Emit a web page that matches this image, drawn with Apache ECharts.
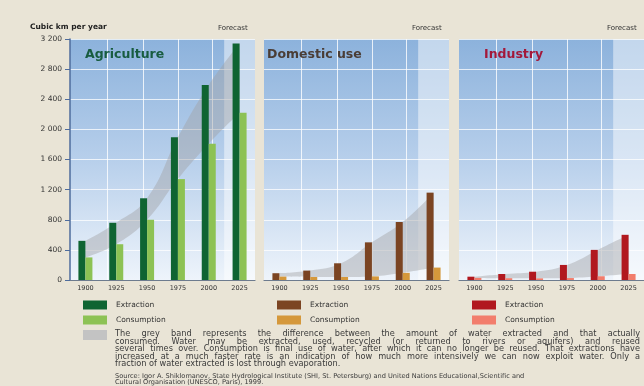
<!DOCTYPE html>
<html>
<head>
<meta charset="utf-8">
<script src="https://cdn.jsdelivr.net/npm/echarts/dist/echarts.min.js"></script>
<style>
  html, body { margin: 0; padding: 0; background: #e9e4d6; }
  #chart { width: 644px; height: 386px; }
</style>
</head>
<body>
<div id="chart"></div>
<script>
// Water extraction and consumption by sector, km³ per year
const years = ['1900', '1925', '1950', '1975', '2000', '2025'];
const yMin = 0;
const yMax = 3200;
const yStep = 400;

const agriExtraction = [520, 760, 1085, 1895, 2590, 3140];
const agriConsumption = [300, 475, 800, 1340, 1810, 2220];
const domesticExtraction = [90, 125, 222, 500, 770, 1160];
const domesticConsumption = [45, 40, 40, 48, 95, 165];
const industryExtraction = [44, 80, 110, 200, 400, 600];
const industryConsumption = [28, 24, 22, 26, 50, 80];

const sectorNames = ['Agriculture', 'Domestic use', 'Industry'];
const legendLabels = ['Extraction', 'Consumption'];
const forecastLabel = 'Forecast';
const unitLabel = 'Cubic km per year';

const noteLines = [
  'The grey band represents the difference between the amount of water extracted and that actually',
  'consumed. Water may be extracted, used, recycled (or returned to rivers or aquifers) and reused',
  'several times over. Consumption is final use of water, after which it can no longer be reused. That extractions have',
  'increased at a much faster rate is an indication of how much more intensively we can now exploit water. Only a',
  'fraction of water extracted is lost through evaporation.'
];
const sourceLines = [
  'Source: Igor A. Shiklomanov, State Hydrological Institute (SHI, St. Petersburg) and United Nations Educational,Scientific and',
  'Cultural Organisation (UNESCO, Paris), 1999.'
];

const panels = [
  { name: sectorNames[0], ext: agriExtraction, con: agriConsumption,
    titleColor: '#185c40', extColor: '#0f6432', conColor: '#8dc254', left: 70 },
  { name: sectorNames[1], ext: domesticExtraction, con: domesticConsumption,
    titleColor: '#4a3d36', extColor: '#7b4422', conColor: '#d5983b', left: 264 },
  { name: sectorNames[2], ext: industryExtraction, con: industryConsumption,
    titleColor: '#a3183a', extColor: '#b1181f', conColor: '#f27d6c', left: 459 }
];

const FONT = '"DejaVu Sans", "Liberation Sans", sans-serif';
const GRID_TOP = 39;
const GRID_W = 185;
const GRID_H = 241;

const yearNums = years.map(Number);
const yearStep = yearNums[1] - yearNums[0];
const yearLo = yearNums[0] - yearStep / 2;
const yearHi = yearNums[yearNums.length - 1] + yearStep / 2;

const fmtThousands = v => String(v).replace(/\B(?=(\d{3})+(?!\d))/g, ' ');

const panelBg = new echarts.graphic.LinearGradient(0, 0, 0, 1, [
  { offset: 0, color: '#8cb2dc' },
  { offset: 0.5, color: '#b7cfeb' },
  { offset: 1, color: '#eef4fb' }
]);

const grids = [], xAxes = [], yAxes = [], series = [];

panels.forEach((p, i) => {
  grids.push({
    left: p.left, top: GRID_TOP, width: GRID_W, height: GRID_H,
    show: true, backgroundColor: panelBg, borderWidth: 0
  });
  // category axis for the bars and the band
  xAxes.push({
    type: 'category', gridIndex: i, data: years, boundaryGap: true,
    axisLine: { show: true, lineStyle: { color: '#6d7b8e', width: 1.2 } },
    axisTick: { show: false },
    axisLabel: { fontFamily: FONT, fontSize: 6.5, color: '#333', margin: 5 },
    splitLine: { show: false }
  });
  // year axis for the background decoration
  xAxes.push({
    type: 'value', gridIndex: i, min: yearLo, max: yearHi, show: false
  });
  yAxes.push({
    type: 'value', gridIndex: i, min: yMin, max: yMax, interval: yStep,
    axisLine: { show: i === 0, lineStyle: { color: '#4e6c9c', width: 1.5 } },
    axisTick: { show: i === 0, length: 5, lineStyle: { color: '#4e6c9c' } },
    axisLabel: { show: i === 0, fontFamily: FONT, fontSize: 7.5, color: '#333',
                 margin: 8, formatter: fmtThousands },
    splitLine: { show: true, lineStyle: { color: 'rgba(255,255,255,0.75)', width: 1 } }
  });

  const catX = i * 2, yearX = i * 2 + 1;

  // forecast shading and vertical grid lines
  series.push({
    type: 'line', xAxisIndex: yearX, yAxisIndex: i, data: [],
    silent: true, z: 1,
    markArea: {
      silent: true, z: 1,
      itemStyle: { color: 'rgba(255,255,255,0.48)' },
      data: [[{ xAxis: yearNums[yearNums.length - 1] - yearStep / 2 }, { xAxis: yearHi }]]
    },
    markLine: {
      silent: true, z: 1, symbol: 'none', label: { show: false },
      lineStyle: { color: 'rgba(255,255,255,0.8)', type: 'solid', width: 1 },
      data: [1918, 1947, 1975, 2003].map(v => ({ xAxis: v }))
    }
  });

  // grey band between consumption and extraction
  series.push({
    type: 'line', xAxisIndex: catX, yAxisIndex: i, stack: 'band' + i,
    data: p.con, symbol: 'none', smooth: 0.45, silent: true, z: 2,
    lineStyle: { opacity: 0 }
  });
  series.push({
    type: 'line', xAxisIndex: catX, yAxisIndex: i, stack: 'band' + i,
    data: p.ext.map((v, k) => v - p.con[k]), symbol: 'none', smooth: 0.45, silent: true, z: 2,
    lineStyle: { opacity: 0 },
    areaStyle: { color: 'rgba(160,160,162,0.62)' }
  });

  // bars
  series.push({
    type: 'bar', name: legendLabels[0], xAxisIndex: catX, yAxisIndex: i,
    data: p.ext, barWidth: 7, barGap: '0%', z: 6,
    itemStyle: { color: p.extColor }
  });
  series.push({
    type: 'bar', name: legendLabels[1], xAxisIndex: catX, yAxisIndex: i,
    data: p.con, barWidth: 7, barGap: '0%', z: 6,
    itemStyle: { color: p.conColor }
  });
});

// ---- text and legend elements ----
const graphics = [];
const txt = (x, y, text, opts = {}) => graphics.push({
  type: 'text', x, y, silent: true, z: 10,
  style: Object.assign({
    text, fontFamily: FONT, fontSize: 7, fill: '#333',
    verticalAlign: 'middle', align: 'left'
  }, opts)
});

txt(30, 27, unitLabel, { fontWeight: 'bold', fontSize: 7.5, fill: '#222' });

panels.forEach((p, i) => {
  txt(p.left + GRID_W - 37, 28, forecastLabel, { fontSize: 7, fill: '#333' });
  txt(p.left + [15, 3, 25][i], 55, p.name,
      { fontWeight: 'bold', fontSize: 12.5, fill: p.titleColor });

  const sx = p.left + 13;
  [[p.extColor, 305], [p.conColor, 320]].forEach(([c, cy], k) => {
    graphics.push({ type: 'rect', silent: true, z: 10,
      shape: { x: sx, y: cy - 4.5, width: 24, height: 9 }, style: { fill: c } });
    txt(sx + 33, cy, legendLabels[k], { fontSize: 7.5 });
  });
});
graphics.push({ type: 'rect', silent: true, z: 10,
  shape: { x: panels[0].left + 13, y: 330, width: 24, height: 10 },
  style: { fill: '#c3c3c3' } });

// justified explanatory note, word by word
const measure = document.createElement('canvas').getContext('2d');
const noteX0 = 115, noteX1 = 640;
function lineWidth(text, size) {
  measure.font = size + 'px "DejaVu Sans"';
  return measure.measureText(text).width;
}
// font size at which the longest line fills the column with normal spacing
const longest = noteLines.reduce((a, b) => (lineWidth(a, 10) > lineWidth(b, 10) ? a : b));
const noteSize = Math.min(8.2, 10 * (noteX1 - noteX0) / lineWidth(longest, 10));

function setLine(text, x0, x1, y, size, justify) {
  measure.font = size + 'px "DejaVu Sans"';
  const words = text.split(' ');
  const widths = words.map(w => measure.measureText(w).width);
  const total = widths.reduce((a, b) => a + b, 0);
  const gap = justify && words.length > 1
    ? (x1 - x0 - total) / (words.length - 1)
    : measure.measureText(' ').width;
  let x = x0;
  words.forEach((w, k) => {
    txt(x, y, w, { fontSize: size, fill: '#3a3a3a' });
    x += widths[k] + gap;
  });
}
noteLines.forEach((line, k) => {
  setLine(line, noteX0, noteX1, 334 + k * 7.5, noteSize, k < noteLines.length - 1);
});
const srcSize = Math.min(6.6, 6.6 * 518 / lineWidth(sourceLines[0], 6.6));
sourceLines.forEach((line, k) => {
  setLine(line, noteX0, noteX1, 376 + k * 6.2, srcSize, false);
});

const chart = echarts.init(document.getElementById('chart'), null, { renderer: 'canvas' });
chart.setOption({
  backgroundColor: '#e9e4d6',
  animation: false,
  grid: grids,
  xAxis: xAxes,
  yAxis: yAxes,
  series: series,
  graphic: graphics
});
</script>
</body>
</html>
